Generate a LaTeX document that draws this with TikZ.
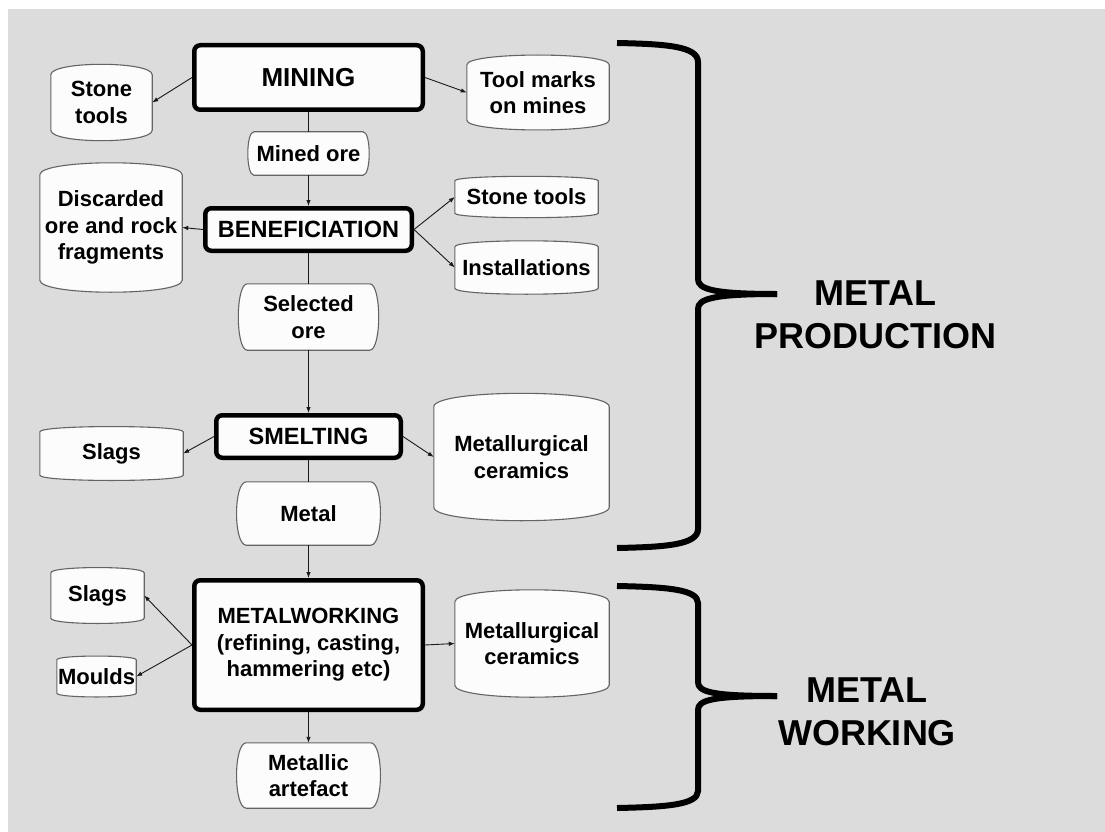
\documentclass[tikz,border=0pt]{standalone}
\usepackage{fontspec}
\setmainfont{Liberation Sans}
\usepackage{tikz}
\usetikzlibrary{arrows.meta,backgrounds}
\definecolor{bggray}{RGB}{220,220,220}
\definecolor{boxfill}{RGB}{252,252,252}
\definecolor{edgegray}{RGB}{100,100,100}

\newcommand{\labelfont}{\fontsize{22}{26.5}\selectfont\bfseries}
\newcommand{\stagefont}{\fontsize{23.5}{27}\selectfont\bfseries}
\newcommand{\bigfont}{\fontsize{36}{43}\selectfont\bfseries}

\begin{document}
\begin{tikzpicture}[x=1pt, y=1pt, >={Latex[length=6pt,width=4.5pt]},
    every node/.style={font=\labelfont, align=center, inner sep=0pt},
    stagebox/.style={draw, line width=4.5pt, rounded corners=6pt, fill=boxfill},
    outline/.style={fill=boxfill, draw=edgegray, line width=1.1pt},
    link/.style={line width=0.9pt, draw=black!90},
    brace/.style={line width=6pt, draw=black}]
\useasboundingbox (0,0) rectangle (1105,-832);

% main column
\node[stagebox, minimum width=228.5pt, minimum height=64.5pt, font=\fontsize{26}{30}\selectfont\bfseries] (mining) at (308.5,-77.5) {MINING};
\node[minimum width=109pt, minimum height=43pt] (ore1) at (308.5,-153.5) {Mined ore};
\node[stagebox, minimum width=206.5pt, minimum height=42.5pt, font=\stagefont] (benef) at (308.5,-229.5) {BENEFICIATION};
\node[minimum width=122pt, minimum height=66pt] (ore2) at (308.5,-317) {Selected\\ore};
\node[stagebox, minimum width=184.5pt, minimum height=42.5pt, font=\stagefont] (smelt) at (308.5,-436.5) {SMELTING};
\node[minimum width=124pt, minimum height=63pt] (metal) at (308.5,-513.5) {Metal};
\node[stagebox, minimum width=228.5pt, minimum height=129.5pt] (working) at (308.5,-645) {METALWORKING\\(refining, casting,\\hammering etc)};
\node[minimum width=124pt, minimum height=65pt] (artefact) at (308.5,-775.5) {Metallic\\artefact};

% by-products
\node[minimum width=101pt, minimum height=55pt] (tools1) at (101.5,-102.5) {Stone\\tools};
\node[minimum width=142pt, minimum height=55pt] (marks) at (538,-92.5) {Tool marks\\on mines};
\node[minimum width=142pt, minimum height=105pt] (waste) at (111,-227.5) {Discarded\\ore and rock\\fragments};
\node[minimum width=143pt, minimum height=32pt] (tools2) at (526.5,-197) {Stone tools};
\node[minimum width=143pt, minimum height=41pt] (install) at (526.5,-267.5) {Installations};
\node[minimum width=143pt, minimum height=43pt] (slag1) at (111.5,-453.5) {Slags};
\node[minimum width=175pt, minimum height=100pt] (ceram1) at (521.5,-457) {Metallurgical\\ceramics};
\node[minimum width=93pt, minimum height=45pt] (slag2) at (97.5,-595.5) {Slags};
\node[minimum width=79pt, minimum height=33pt] (moulds) at (96.5,-676.5) {Moulds};
\node[minimum width=154pt, minimum height=83pt] (ceram2) at (532,-643.5) {Metallurgical\\ceramics};

% labels
\node[font=\bigfont] (prod) at (875.5,-315) {METAL\\PRODUCTION};
\node[font=\bigfont] (work) at (867,-712) {METAL\\WORKING};

% connectors
\draw[link,->] (mining.west) -- (tools1.east);
\draw[link,->] (mining.east) -- (marks.west);
\draw[link] (mining.south) -- (ore1.north);
\draw[link,->] (ore1.south) -- (benef.north);
\draw[link,->] (benef.west) -- (waste.east);
\draw[link,->] (benef.east) -- (tools2.west);
\draw[link,->] (benef.east) -- (install.west);
\draw[link] (benef.south) -- (ore2.north);
\draw[link,->] (ore2.south) -- (smelt.north);
\draw[link,->] (smelt.west) -- (slag1.east);
\draw[link,->] (smelt.east) -- (ceram1.west);
\draw[link] (smelt.south) -- (metal.north);
\draw[link,->] (metal.south) -- (working.north);
\draw[link,->] (working.west) -- (slag2.east);
\draw[link,->] (working.west) -- (moulds.east);
\draw[link,->] (working.east) -- (ceram2.west);
\draw[link,->] (working.south) -- (artefact.north);

% braces
\draw[brace] (617,-43) .. controls (665,-44) and (698,-46) .. (698,-62) -- (698,-279) .. controls (698,-289) and (712,-294) .. (777,-294);
\draw[brace] (617,-548) .. controls (665,-547) and (698,-545) .. (698,-529) -- (698,-309) .. controls (698,-299) and (712,-294) .. (777,-294);
\draw[brace] (617,-586) .. controls (665,-587) and (698,-589) .. (698,-603) -- (698,-682) .. controls (698,-692) and (712,-696) .. (777,-696);
\draw[brace] (617,-808) .. controls (665,-807) and (698,-805) .. (698,-791) -- (698,-710) .. controls (698,-700) and (712,-696) .. (777,-696);

\begin{scope}[on background layer]
  \fill[white] (0,0) rectangle (1105,-832);
  \fill[bggray] (8,-9) rectangle (1105,-832);
  \foreach \n/\b in {tools1/14, marks/13, waste/16, tools2/6, install/8, slag1/7, ceram1/18, slag2/7, moulds/5, ceram2/16}
    \draw[outline] (\n.north west) .. controls +(0,\b) and +(0,\b) .. (\n.north east) -- (\n.south east) .. controls +(0,-\b) and +(0,-\b) .. (\n.south west) -- cycle;
  \foreach \n/\b in {ore1/8, ore2/12, metal/13, artefact/13}
    \draw[outline] (\n.north west) -- (\n.north east) .. controls +(\b,0) and +(\b,0) .. (\n.south east) -- (\n.south west) .. controls +(-\b,0) and +(-\b,0) .. (\n.north west) -- cycle;
\end{scope}
\end{tikzpicture}
\end{document}
